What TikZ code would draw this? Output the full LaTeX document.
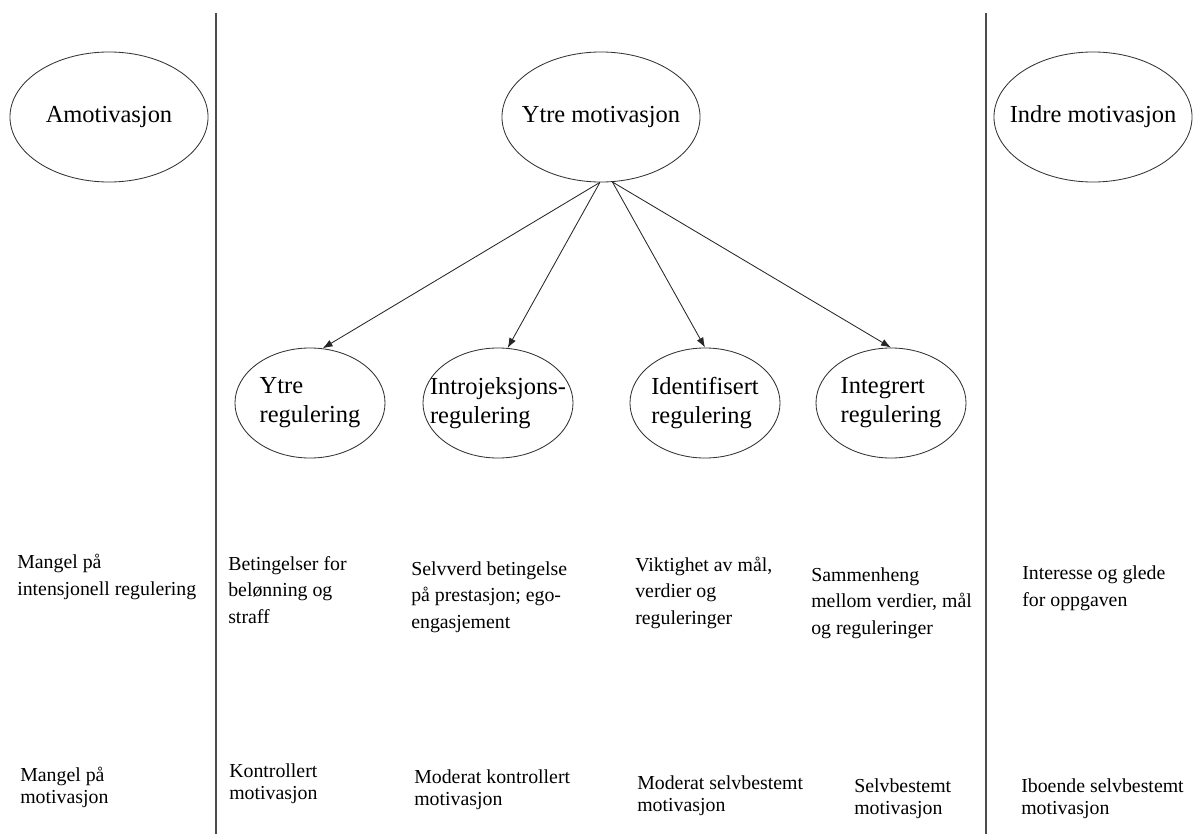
\documentclass[tikz,border=0pt]{standalone}
\usepackage{fontspec}
\setmainfont{Liberation Serif}
\usetikzlibrary{arrows.meta,positioning,shapes.geometric}

\begin{document}
\begin{tikzpicture}[x=0.025cm, y=-0.025cm,
  mot/.style={draw=black!80, line width=0.6pt, ellipse, minimum width=4.95cm, minimum height=3.25cm, inner xsep=-12pt, inner ysep=0pt, font=\fontsize{17.4}{20.6}\selectfont},
  reg/.style={draw=black!80, line width=0.6pt, ellipse, minimum width=3.75cm, minimum height=2.75cm, inner sep=0pt},
  regtxt/.style={font=\fontsize{17.4}{20.6}\selectfont, align=left, inner sep=0pt},
  txt/.style={anchor=base west, align=left, inner sep=0pt, font=\fontsize{14.1}{18.5}\selectfont},
  txtb/.style={txt, font=\fontsize{14.1}{15.6}\selectfont},
  e/.style={-{Latex[length=2.5mm,width=1.8mm]}, line width=0.6pt, black!85},
  divider/.style={line width=1.4pt, black!70}]
\useasboundingbox (0,0) rectangle (1203,834);

% skillelinjer
\draw[divider] (216,13) -- (216,834);
\draw[divider] (986,13) -- (986,834);

% motivasjonstyper
\node[mot] (amot) at (109,117) {Amotivasjon};
\node[mot] (ytre) at (601,117) {Ytre motivasjon};
\node[mot] (indre) at (1093,117) {Indre motivasjon};

% reguleringer
\node[reg, label={[regtxt]center:Ytre\\regulering}] (yreg) at (310,403) {};
\node[reg, label={[regtxt]center:Introjeksjons-\\regulering}] (intro) at (498,403) {};
\node[reg, label={[regtxt]center:Identifisert\\regulering}] (ident) at (705,403) {};
\node[reg, label={[regtxt]center:Integrert\\regulering}] (integ) at (891,403) {};

\draw[e] (ytre.-91) -- (yreg.77);
\draw[e] (ytre.-91) -- (intro.80);
\draw[e] (ytre.-80) -- (ident.north);
\draw[e] (ytre.-80) -- (integ.north);

% regulerende prosesser (base = siste linje)
\node[txt] (mangelreg) at (17,595) {Mangel på\\intensjonell regulering};
\node[txt] (betingelser) at (228,623) {Betingelser for\\belønning og\\straff};
\node[txt] (selvverd) at (411,628) {Selvverd betingelse\\på prestasjon; ego-\\engasjement};
\node[txt] (viktighet) at (635,624) {Viktighet av mål,\\verdier og\\reguleringer};
\node[txt] (sammenheng) at (811,634) {Sammenheng\\mellom verdier, mål\\og reguleringer};
\node[txt] (interesse) at (1022,606) {Interesse og glede\\for oppgaven};

% grad av selvbestemmelse
\node[txtb] (mangelmot) at (20,803) {Mangel på\\motivasjon};
\node[txtb] (kontrollert) at (229,799) {Kontrollert\\motivasjon};
\node[txtb] (modkontr) at (414,805) {Moderat kontrollert\\motivasjon};
\node[txtb] (modselv) at (637,811) {Moderat selvbestemt\\motivasjon};
\node[txtb] (selvbest) at (854,814) {Selvbestemt\\motivasjon};
\node[txtb] (iboende) at (1021,814) {Iboende selvbestemt\\motivasjon};
\end{tikzpicture}
\end{document}
